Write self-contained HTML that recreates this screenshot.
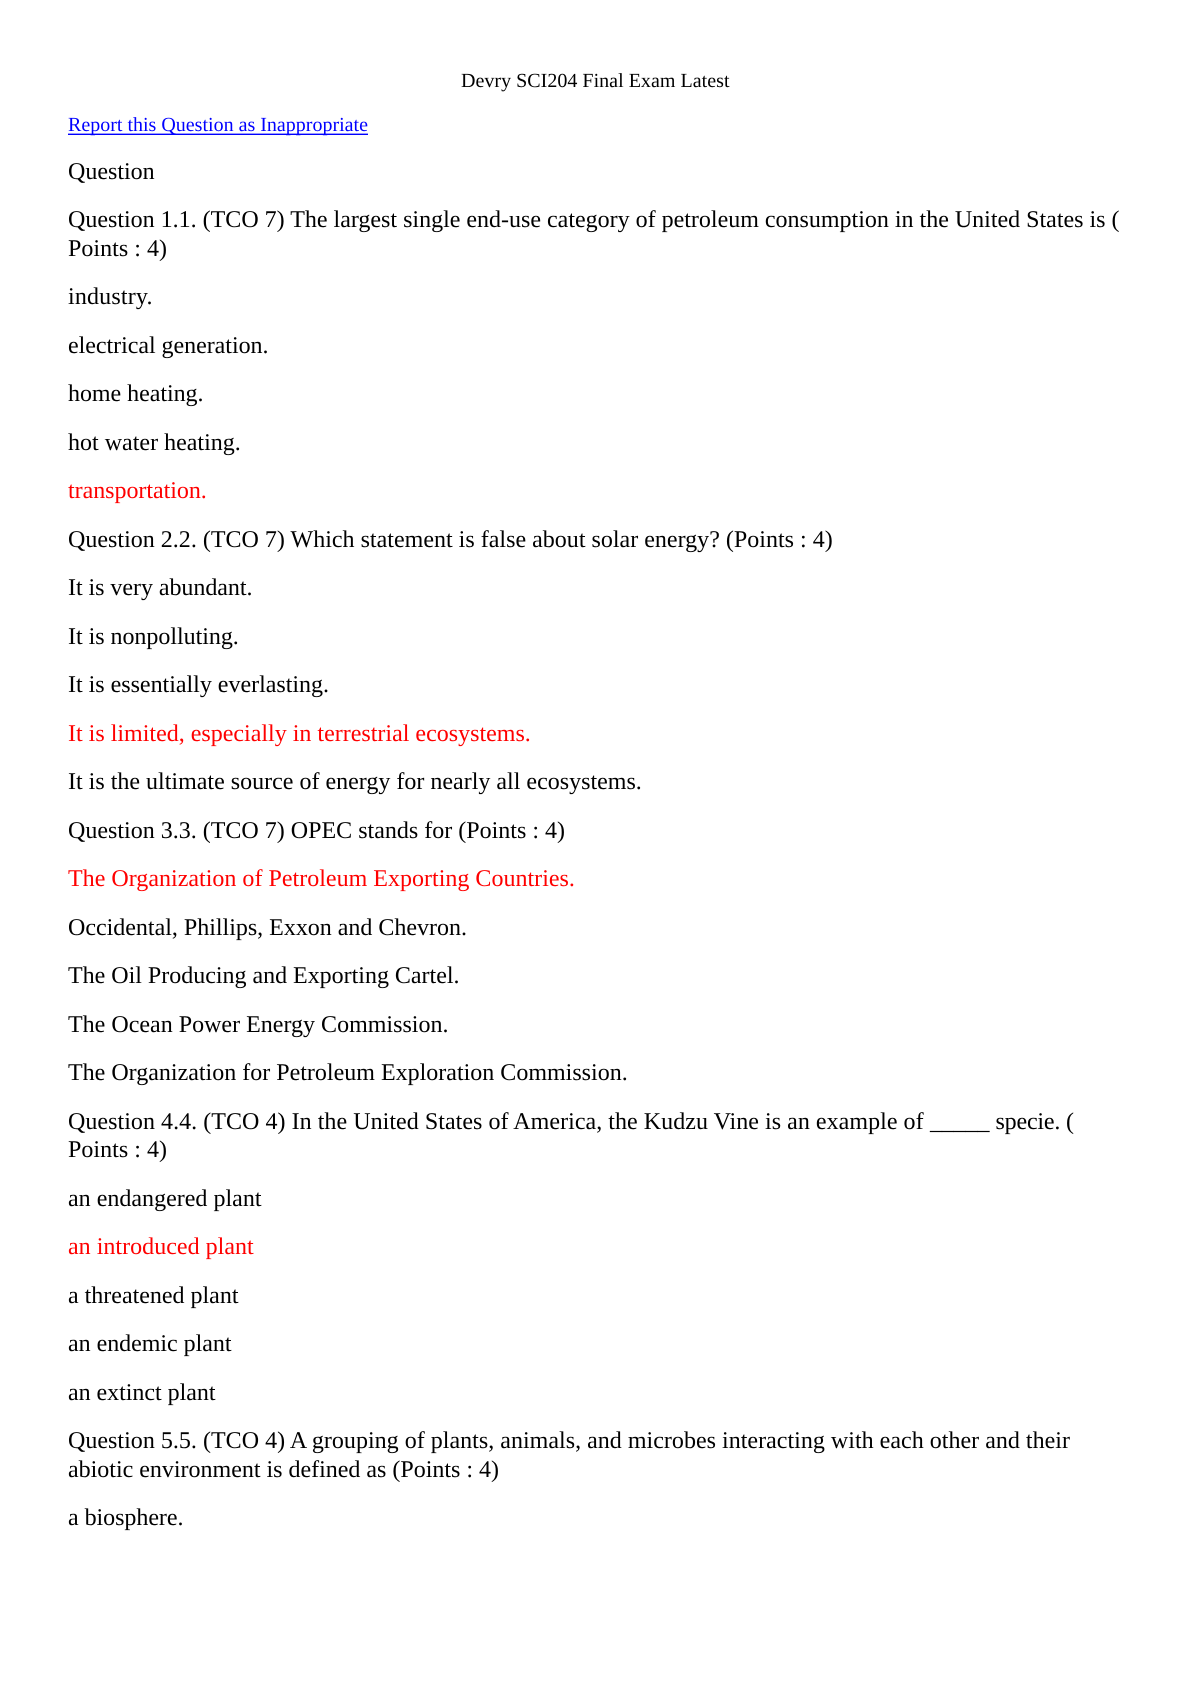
<!DOCTYPE html>
<html lang="en"><head><meta charset="utf-8"><title>Devry SCI204 Final Exam Latest</title>
<style>
html,body{margin:0;padding:0;background:#fff;width:1191px;height:1684px;overflow:hidden}
svg{display:block}
text{font-family:"Liberation Serif",serif;font-size:24px;fill:#000;text-rendering:geometricPrecision;white-space:pre}
.s{font-size:20px}
.r{fill:#f00}
.b{fill:#00f}
</style></head><body>
<svg width="1191" height="1684" viewBox="0 0 1191 1684" xmlns="http://www.w3.org/2000/svg">
<text class="s" x="461" y="87" textLength="268.5" lengthAdjust="spacing">Devry SCI204 Final Exam Latest</text>
<text class="s b" x="68" y="131" textLength="300" lengthAdjust="spacing">Report this Question as Inappropriate</text>
<rect x="68" y="133.6" width="300" height="1.4" fill="#00f"/>
<text x="68" y="179">Question</text>
<text x="68" y="227" textLength="1051.5" lengthAdjust="spacing">Question 1.1. (TCO 7) The largest single end-use category of petroleum consumption in the United States is (</text>
<text x="68" y="256" textLength="99" lengthAdjust="spacing">Points : 4)</text>
<text x="68" y="304" textLength="84.5" lengthAdjust="spacing">industry.</text>
<text x="68" y="353" textLength="200.5" lengthAdjust="spacing">electrical generation.</text>
<text x="68" y="401" textLength="135.5" lengthAdjust="spacing">home heating.</text>
<text x="68" y="450" textLength="172.8" lengthAdjust="spacing">hot water heating.</text>
<text class="r" x="68" y="498" textLength="138.8" lengthAdjust="spacing">transportation.</text>
<text x="68" y="547" textLength="764.7" lengthAdjust="spacing">Question 2.2. (TCO 7) Which statement is false about solar energy? (Points : 4)</text>
<text x="68" y="595" textLength="184.5" lengthAdjust="spacing">It is very abundant.</text>
<text x="68" y="644" textLength="170.8" lengthAdjust="spacing">It is nonpolluting.</text>
<text x="68" y="692" textLength="261" lengthAdjust="spacing">It is essentially everlasting.</text>
<text class="r" x="68" y="741" textLength="462.8" lengthAdjust="spacing">It is limited, especially in terrestrial ecosystems.</text>
<text x="68" y="789" textLength="573.8" lengthAdjust="spacing">It is the ultimate source of energy for nearly all ecosystems.</text>
<text x="68" y="838" textLength="497" lengthAdjust="spacing">Question 3.3. (TCO 7) OPEC stands for (Points : 4)</text>
<text class="r" x="68" y="886" textLength="506.9" lengthAdjust="spacing">The Organization of Petroleum Exporting Countries.</text>
<text x="68" y="935" textLength="399" lengthAdjust="spacing">Occidental, Phillips, Exxon and Chevron.</text>
<text x="68" y="983" textLength="391.5" lengthAdjust="spacing">The Oil Producing and Exporting Cartel.</text>
<text x="68" y="1032" textLength="380.5" lengthAdjust="spacing">The Ocean Power Energy Commission.</text>
<text x="68" y="1080" textLength="559.7" lengthAdjust="spacing">The Organization for Petroleum Exploration Commission.</text>
<text x="68" y="1129" textLength="855.6" lengthAdjust="spacing">Question 4.4. (TCO 4) In the United States of America, the Kudzu Vine is an example of</text>
<text x="930" y="1129" textLength="59.5" lengthAdjust="spacing">_____</text>
<text x="995.5" y="1129" textLength="78.5" lengthAdjust="spacing">specie. (</text>
<text x="68" y="1157" textLength="99" lengthAdjust="spacing">Points : 4)</text>
<text x="68" y="1206" textLength="193.5" lengthAdjust="spacing">an endangered plant</text>
<text class="r" x="68" y="1254" textLength="185.7" lengthAdjust="spacing">an introduced plant</text>
<text x="68" y="1303" textLength="170.5" lengthAdjust="spacing">a threatened plant</text>
<text x="68" y="1351" textLength="163.5" lengthAdjust="spacing">an endemic plant</text>
<text x="68" y="1400" textLength="147.5" lengthAdjust="spacing">an extinct plant</text>
<text x="68" y="1448" textLength="1002" lengthAdjust="spacing">Question 5.5. (TCO 4) A grouping of plants, animals, and microbes interacting with each other and their</text>
<text x="68" y="1477" textLength="431" lengthAdjust="spacing">abiotic environment is defined as (Points : 4)</text>
<text x="68" y="1525" textLength="115.5" lengthAdjust="spacing">a biosphere.</text>
</svg>
</body></html>
